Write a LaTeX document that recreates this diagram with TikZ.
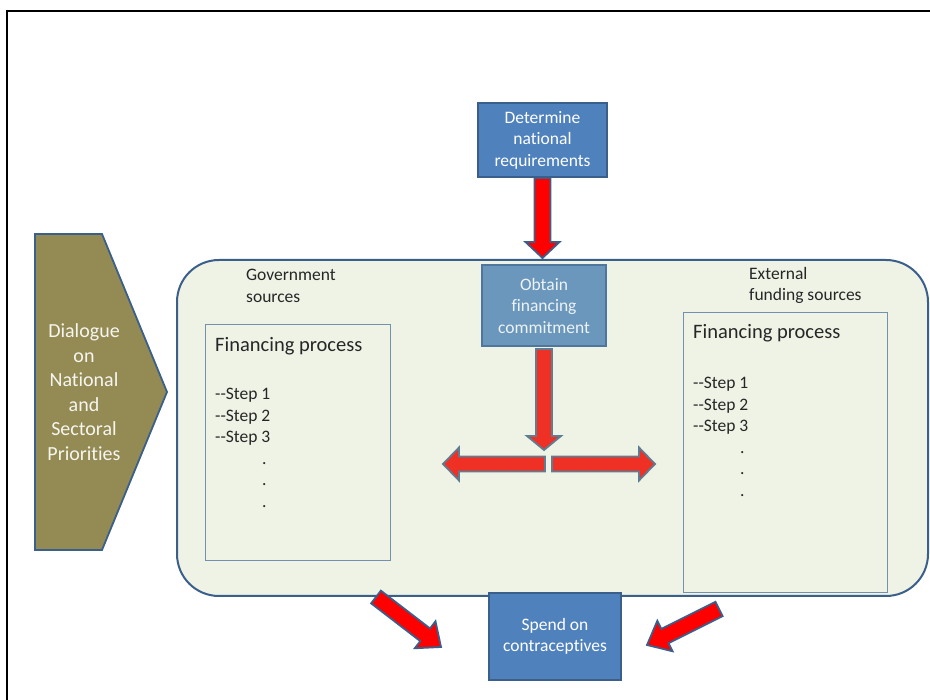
\documentclass[tikz,border=0pt]{standalone}
\usepackage{fontspec}
\setmainfont{Carlito}[Ligatures={NoCommon}]
\usetikzlibrary{calc}
\definecolor{olivebox}{HTML}{948A54}
\definecolor{darkborder}{HTML}{3A5F8B}
\definecolor{bluebox}{HTML}{4F81BD}
\definecolor{greybluebox}{HTML}{6A97BB}
\definecolor{obtborder}{HTML}{4F769C}
\definecolor{panel}{HTML}{EFF3E6}
\definecolor{thinborder}{HTML}{7391AE}
\definecolor{softred}{HTML}{EE3124}
\definecolor{greyborder}{HTML}{5E7C92}
\definecolor{textdark}{HTML}{262626}

% block arrow: style, from, to, half shaft, half head, head length
\newcommand{\fatarrow}[6]{%
  \draw[#1] let \p1=($(#3)-(#2)$), \n1={atan2(\y1,\x1)}, \n2={veclen(\x1,\y1)} in
    [shift={(#2)}, rotate=\n1]
    (0pt,#4) -- ({\n2-#6},#4) -- ({\n2-#6},#5) -- ({\n2+0pt},0pt)
    -- ({\n2-#6},-#5) -- ({\n2-#6},-#4) -- (0pt,-#4) -- cycle;
}

\begin{document}
\begin{tikzpicture}[x=1pt,y=-1pt,
  every node/.style={font=\fontsize{17.5}{21.5}\selectfont, text=textdark},
  taskbox/.style={draw=darkborder, line width=2pt, fill=bluebox, text=white,
    align=center, inner sep=0pt},
  procbox/.style={draw=thinborder, line width=1pt, inner sep=0pt},
  redarrow/.style={draw=darkborder, line width=1.8pt, fill=red},
  softarrow/.style={draw=greyborder, line width=1.8pt, fill=softred}
  ]
  \useasboundingbox (0,0) rectangle (930,700);
  \draw[line width=2pt] (7,700) -- (7,11) -- (930,11);

  % dialogue chevron
  \draw[fill=olivebox, draw=darkborder, line width=1.8pt]
    (35,234) -- (102,234) -- (167,392) -- (102,550) -- (35,550) -- cycle;
  \node[align=center, text=white!92!olivebox,
    font=\fontsize{20}{24.5}\selectfont] (dlg) at (84,392)
    {Dialogue\\on\\National\\and\\Sectoral\\Priorities};

  % financing panel
  \node[draw=darkborder, line width=2pt, fill=panel, rounded corners=42pt,
    minimum width=751pt, minimum height=336pt] (outer) at (552.5,428) {};
  \node[procbox, minimum width=185pt, minimum height=236pt] (govproc) at (297.5,443) {};
  \node[procbox, minimum width=204pt, minimum height=280pt] (extproc) at (785,453) {};

  \node[anchor=north west, align=left, inner sep=0pt] (govlbl) at (246,269) {Government\\sources};
  \node[anchor=north west, align=left, inner sep=0pt] (extlbl) at (749,267) {External\\funding sources};

  \node[anchor=north west, inner sep=0pt, font=\fontsize{20.5}{24}\selectfont] (govtitle) at (215,337) {Financing process};
  \node[anchor=north west, inner sep=0pt, font=\fontsize{20.5}{24}\selectfont] (exttitle) at (693,324) {Financing process};
  \node[anchor=north west, align=left, inner sep=0pt] (govsteps) at (215,388)
    {-{}-Step 1\\-{}-Step 2\\-{}-Step 3\\\hspace*{47pt}.\\\hspace*{47pt}.\\\hspace*{47pt}.};
  \node[anchor=north west, align=left, inner sep=0pt] (extsteps) at (693,377)
    {-{}-Step 1\\-{}-Step 2\\-{}-Step 3\\\hspace*{47pt}.\\\hspace*{47pt}.\\\hspace*{47pt}.};

  % arrow ends
  \coordinate (dettip) at (542.5,258);
  \coordinate (obtout) at (544,349);
  \coordinate (fork) at (544,450);
  \coordinate (lstart) at (545,464);
  \coordinate (ltip) at (443,464);
  \coordinate (rstart) at (552,464);
  \coordinate (rtip) at (655,464);
  \coordinate (govout) at (376,597);
  \coordinate (govtip) at (441,647);
  \coordinate (extout) at (719,609);
  \coordinate (exttip) at (647,645);

  \node[taskbox, minimum width=129pt, minimum height=74pt] (det) at (542.5,140)
    {Determine\\national\\requirements};

  \fatarrow{redarrow}{det.south}{dettip}{8pt}{17pt}{16pt}
  \fatarrow{softarrow}{obtout}{fork}{8pt}{17pt}{14pt}
  \fatarrow{softarrow}{lstart}{ltip}{7.5pt}{16.5pt}{16pt}
  \fatarrow{softarrow}{rstart}{rtip}{7.5pt}{16.5pt}{16pt}
  \fatarrow{redarrow}{govout}{govtip}{8pt}{17pt}{20pt}
  \fatarrow{redarrow}{extout}{exttip}{8pt}{17pt}{20pt}

  \node[taskbox, fill=greybluebox, draw=obtborder, text=white!88!greybluebox,
    minimum width=124pt, minimum height=81pt] (obt) at (544,305.5)
    {Obtain\\financing\\commitment};
  \node[taskbox, minimum width=132pt, minimum height=87pt] (spend) at (555,636.5)
    {Spend on\\contraceptives};
\end{tikzpicture}
\end{document}
